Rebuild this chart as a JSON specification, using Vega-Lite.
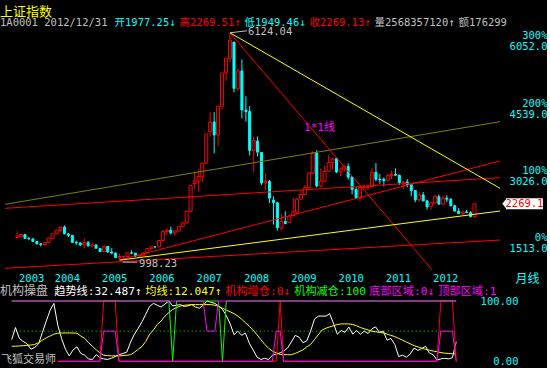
{
"$schema":"https://vega.github.io/schema/vega-lite/v6.json",
"background":"#000000",
"padding":{"left":0,"top":6,"right":0,"bottom":0},
"config":{"view":{"stroke":null},"axis":{"grid":false,"domain":false,"ticks":false}},
"title":{"text":"上证指数","anchor":"start","frame":"bounds","offset":-1,"color":"#ffff00","font":"Noto Sans CJK SC","fontSize":13,"fontWeight":"normal"},
"datasets":{
"k":[
{"d":"2003-04-01","o":1510.4,"h":1649.6,"l":1486.7,"c":1521.4,"tr":36,"ma":25,"inc":null,"dec":100,"bot":null,"top":100},
{"d":"2003-05-01","o":1521.4,"h":1590,"l":1510,"c":1576.3,"tr":56,"ma":25,"inc":null,"dec":100,"bot":null,"top":100},
{"d":"2003-06-01","o":1576,"h":1590,"l":1480,"c":1486.7,"tr":38,"ma":25.5,"inc":null,"dec":100,"bot":null,"top":100},
{"d":"2003-07-01","o":1486,"h":1521,"l":1457,"c":1476.7,"tr":33,"ma":26,"inc":null,"dec":100,"bot":null,"top":100},
{"d":"2003-08-01","o":1476,"h":1490,"l":1412,"c":1422,"tr":29,"ma":26.5,"inc":null,"dec":100,"bot":null,"top":100},
{"d":"2003-09-01","o":1422,"h":1430,"l":1351,"c":1367.2,"tr":20,"ma":27,"inc":null,"dec":100,"bot":null,"top":100},
{"d":"2003-10-01","o":1367,"h":1380,"l":1307,"c":1348.3,"tr":23,"ma":28,"inc":null,"dec":100,"bot":null,"top":100},
{"d":"2003-11-01","o":1348,"h":1404,"l":1316,"c":1397.2,"tr":29,"ma":31,"inc":null,"dec":100,"bot":null,"top":100},
{"d":"2003-12-01","o":1397,"h":1497,"l":1380,"c":1497,"tr":48,"ma":35,"inc":null,"dec":100,"bot":null,"top":100},
{"d":"2004-01-01","o":1492,"h":1596,"l":1492,"c":1590.7,"tr":67,"ma":39,"inc":null,"dec":100,"bot":null,"top":100},
{"d":"2004-02-01","o":1591,"h":1685,"l":1585,"c":1675,"tr":85,"ma":42,"inc":null,"dec":100,"bot":null,"top":100},
{"d":"2004-03-01","o":1675,"h":1759,"l":1630,"c":1741.6,"tr":96,"ma":45,"inc":null,"dec":100,"bot":null,"top":100},
{"d":"2004-04-01","o":1742,"h":1783,"l":1580,"c":1595.6,"tr":60,"ma":46.5,"inc":0,"dec":100,"bot":0,"top":100},
{"d":"2004-05-01","o":1590,"h":1607,"l":1520,"c":1555.9,"tr":38,"ma":47,"inc":0,"dec":100,"bot":0,"top":100},
{"d":"2004-06-01","o":1556,"h":1566,"l":1390,"c":1399.2,"tr":20,"ma":47,"inc":0,"dec":100,"bot":0,"top":100},
{"d":"2004-07-01","o":1399,"h":1440,"l":1340,"c":1386.2,"tr":9,"ma":47,"inc":0,"dec":100,"bot":0,"top":100},
{"d":"2004-08-01","o":1386,"h":1400,"l":1318,"c":1342.1,"tr":19,"ma":47,"inc":0,"dec":100,"bot":0,"top":100},
{"d":"2004-09-01","o":1342,"h":1496,"l":1259,"c":1396.7,"tr":24,"ma":46.5,"inc":0,"dec":100,"bot":0,"top":100},
{"d":"2004-10-01","o":1396,"h":1430,"l":1311,"c":1320.5,"tr":13,"ma":42,"inc":0,"dec":100,"bot":0,"top":100},
{"d":"2004-11-01","o":1320,"h":1402,"l":1301,"c":1340.8,"tr":10,"ma":38,"inc":0,"dec":100,"bot":0,"top":100},
{"d":"2004-12-01","o":1340,"h":1365,"l":1259,"c":1266.5,"tr":4,"ma":31,"inc":0,"dec":100,"bot":0,"top":100},
{"d":"2005-01-01","o":1261,"h":1271,"l":1181,"c":1191.8,"tr":3,"ma":25,"inc":0,"dec":100,"bot":0,"top":100},
{"d":"2005-02-01","o":1191,"h":1328,"l":1183,"c":1306,"tr":11,"ma":19,"inc":0,"dec":100,"bot":0,"top":100},
{"d":"2005-03-01","o":1306,"h":1316,"l":1165,"c":1181.2,"tr":6,"ma":14,"inc":0,"dec":100,"bot":0,"top":100},
{"d":"2005-04-01","o":1181,"h":1270,"l":1131,"c":1159.2,"tr":4,"ma":10,"inc":100,"dec":100,"bot":50,"top":100},
{"d":"2005-05-01","o":1159,"h":1162,"l":1044,"c":1060.7,"tr":3,"ma":9.5,"inc":100,"dec":100,"bot":50,"top":100},
{"d":"2005-06-01","o":1060,"h":1146,"l":998.23,"c":1080.9,"tr":5,"ma":9,"inc":100,"dec":100,"bot":50,"top":100},
{"d":"2005-07-01","o":1080,"h":1097,"l":1004,"c":1083,"tr":8,"ma":9,"inc":100,"dec":100,"bot":50,"top":100},
{"d":"2005-08-01","o":1083,"h":1168,"l":1072,"c":1162.8,"tr":11,"ma":9,"inc":0,"dec":100,"bot":0,"top":100},
{"d":"2005-09-01","o":1163,"h":1223,"l":1132,"c":1155.6,"tr":13,"ma":9.5,"inc":0,"dec":100,"bot":0,"top":100},
{"d":"2005-10-01","o":1155,"h":1156,"l":1067,"c":1092.8,"tr":15,"ma":10,"inc":0,"dec":100,"bot":0,"top":100},
{"d":"2005-11-01","o":1092,"h":1112,"l":1074,"c":1099.3,"tr":32,"ma":11,"inc":0,"dec":100,"bot":0,"top":100},
{"d":"2005-12-01","o":1099,"h":1180,"l":1095,"c":1161.1,"tr":45,"ma":15,"inc":0,"dec":100,"bot":0,"top":100},
{"d":"2006-01-01","o":1163,"h":1268,"l":1161,"c":1258,"tr":55,"ma":20,"inc":0,"dec":100,"bot":0,"top":100},
{"d":"2006-02-01","o":1258,"h":1304,"l":1257,"c":1299,"tr":66,"ma":25,"inc":0,"dec":100,"bot":0,"top":100},
{"d":"2006-03-01","o":1299,"h":1303,"l":1261,"c":1298.3,"tr":78,"ma":33,"inc":0,"dec":100,"bot":0,"top":100},
{"d":"2006-04-01","o":1298,"h":1445,"l":1290,"c":1440.2,"tr":91,"ma":45,"inc":0,"dec":100,"bot":0,"top":100},
{"d":"2006-05-01","o":1440,"h":1678,"l":1419,"c":1641.3,"tr":96,"ma":52,"inc":0,"dec":100,"bot":0,"top":100},
{"d":"2006-06-01","o":1641,"h":1718,"l":1563,"c":1672.2,"tr":93,"ma":61,"inc":0,"dec":100,"bot":0,"top":100},
{"d":"2006-07-01","o":1672,"h":1757,"l":1576,"c":1612.7,"tr":90,"ma":67,"inc":0,"dec":100,"bot":0,"top":100},
{"d":"2006-08-01","o":1612,"h":1658,"l":1543,"c":1658.6,"tr":95,"ma":75,"inc":0,"dec":100,"bot":0,"top":100},
{"d":"2006-09-01","o":1658,"h":1763,"l":1644,"c":1752.4,"tr":100,"ma":81,"inc":0,"dec":100,"bot":0,"top":100},
{"d":"2006-10-01","o":1752,"h":1839,"l":1751,"c":1838,"tr":92,"ma":86,"inc":0,"dec":0,"bot":0,"top":100},
{"d":"2006-11-01","o":1838,"h":2100,"l":1823,"c":2099.3,"tr":93,"ma":89,"inc":0,"dec":100,"bot":0,"top":100},
{"d":"2006-12-01","o":2099,"h":2698,"l":2079,"c":2675.5,"tr":94,"ma":91.5,"inc":0,"dec":100,"bot":0,"top":100},
{"d":"2007-01-01","o":2728,"h":2994,"l":2605,"c":2786.3,"tr":91,"ma":93,"inc":0,"dec":100,"bot":0,"top":100},
{"d":"2007-02-01","o":2786,"h":3049,"l":2541,"c":2881.1,"tr":92,"ma":93.5,"inc":0,"dec":100,"bot":0,"top":100},
{"d":"2007-03-01","o":2881,"h":3184,"l":2762,"c":3184,"tr":94,"ma":94,"inc":0,"dec":100,"bot":0,"top":100},
{"d":"2007-04-01","o":3184,"h":3841,"l":3180,"c":3841.3,"tr":90,"ma":94,"inc":0,"dec":100,"bot":0,"top":100},
{"d":"2007-05-01","o":3900,"h":4335,"l":3780,"c":4109.7,"tr":88,"ma":94,"inc":0,"dec":100,"bot":0,"top":100},
{"d":"2007-06-01","o":4109,"h":4335,"l":3404,"c":3820.7,"tr":93,"ma":94,"inc":0,"dec":100,"bot":0,"top":100},
{"d":"2007-07-01","o":3820,"h":4472,"l":3563,"c":4471,"tr":100,"ma":94,"inc":0,"dec":100,"bot":0,"top":50},
{"d":"2007-08-01","o":4471,"h":5219,"l":4395,"c":5218.8,"tr":98,"ma":94,"inc":0,"dec":100,"bot":0,"top":50},
{"d":"2007-09-01","o":5218,"h":5552,"l":5039,"c":5552.3,"tr":96,"ma":93,"inc":0,"dec":100,"bot":0,"top":50},
{"d":"2007-10-01","o":5552,"h":6124.04,"l":5462,"c":5954.8,"tr":92,"ma":91,"inc":0,"dec":100,"bot":0,"top":100},
{"d":"2007-11-01","o":5914,"h":5914,"l":4778,"c":4871.8,"tr":86,"ma":88,"inc":0,"dec":0,"bot":0,"top":100},
{"d":"2007-12-01","o":4868,"h":5303,"l":4812,"c":5261.6,"tr":76,"ma":85,"inc":0,"dec":100,"bot":0,"top":100},
{"d":"2008-01-01","o":5265,"h":5522,"l":4195,"c":4383.4,"tr":62,"ma":82,"inc":0,"dec":100,"bot":0,"top":100},
{"d":"2008-02-01","o":4381,"h":4695,"l":4123,"c":4348.5,"tr":44,"ma":79,"inc":0,"dec":100,"bot":0,"top":100},
{"d":"2008-03-01","o":4348,"h":4473,"l":3357,"c":3472.7,"tr":50,"ma":75,"inc":0,"dec":100,"bot":0,"top":100},
{"d":"2008-04-01","o":3472,"h":3786,"l":2990,"c":3693.1,"tr":43,"ma":70,"inc":0,"dec":100,"bot":0,"top":100},
{"d":"2008-05-01","o":3681,"h":3786,"l":3333,"c":3433.4,"tr":47,"ma":64,"inc":0,"dec":100,"bot":0,"top":100},
{"d":"2008-06-01","o":3425,"h":3434,"l":2693,"c":2736.1,"tr":30,"ma":58,"inc":0,"dec":100,"bot":0,"top":100},
{"d":"2008-07-01","o":2737,"h":2952,"l":2566,"c":2775.7,"tr":19,"ma":52,"inc":0,"dec":100,"bot":0,"top":100},
{"d":"2008-08-01","o":2775,"h":2806,"l":2284,"c":2397.4,"tr":7,"ma":44,"inc":0,"dec":100,"bot":0,"top":100},
{"d":"2008-09-01","o":2350,"h":2434,"l":1802,"c":2293.8,"tr":3,"ma":36,"inc":0,"dec":100,"bot":0,"top":100},
{"d":"2008-10-01","o":2293,"h":2293,"l":1664.9,"c":1728.8,"tr":5,"ma":28,"inc":0,"dec":100,"bot":0,"top":100},
{"d":"2008-11-01","o":1721,"h":2050,"l":1678,"c":1871.2,"tr":3,"ma":22,"inc":0,"dec":100,"bot":0,"top":100},
{"d":"2008-12-01","o":1870,"h":2100,"l":1814,"c":1820.8,"tr":10,"ma":17,"inc":0,"dec":100,"bot":0,"top":100},
{"d":"2009-01-01","o":1849,"h":2015,"l":1844,"c":1990.7,"tr":12,"ma":14,"inc":0,"dec":100,"bot":50,"top":100},
{"d":"2009-02-01","o":2000,"h":2402,"l":1992,"c":2082.9,"tr":14,"ma":11.5,"inc":100,"dec":100,"bot":50,"top":100},
{"d":"2009-03-01","o":2082,"h":2400,"l":2037,"c":2373.2,"tr":17,"ma":11,"inc":0,"dec":100,"bot":0,"top":100},
{"d":"2009-04-01","o":2373,"h":2579,"l":2369,"c":2477.6,"tr":22,"ma":11,"inc":0,"dec":100,"bot":0,"top":100},
{"d":"2009-05-01","o":2477,"h":2688,"l":2475,"c":2632.9,"tr":32,"ma":11,"inc":0,"dec":100,"bot":0,"top":100},
{"d":"2009-06-01","o":2636,"h":2986,"l":2628,"c":2959.4,"tr":43,"ma":13,"inc":0,"dec":100,"bot":0,"top":100},
{"d":"2009-07-01","o":2959,"h":3454,"l":2956,"c":3412.1,"tr":40,"ma":16,"inc":0,"dec":100,"bot":0,"top":100},
{"d":"2009-08-01","o":3412,"h":3478,"l":2639,"c":2667.7,"tr":31,"ma":19,"inc":0,"dec":100,"bot":0,"top":100},
{"d":"2009-09-01","o":2667,"h":3068,"l":2639,"c":2779.4,"tr":34,"ma":24,"inc":0,"dec":100,"bot":0,"top":100},
{"d":"2009-10-01","o":2779,"h":3123,"l":2750,"c":2995.9,"tr":50,"ma":28,"inc":0,"dec":100,"bot":0,"top":100},
{"d":"2009-11-01","o":2995,"h":3361,"l":2992,"c":3195.3,"tr":70,"ma":36,"inc":0,"dec":100,"bot":0,"top":100},
{"d":"2009-12-01","o":3195,"h":3306,"l":3039,"c":3277.1,"tr":75,"ma":44,"inc":0,"dec":100,"bot":0,"top":100},
{"d":"2010-01-01","o":3289,"h":3306,"l":2963,"c":2989.3,"tr":75,"ma":52,"inc":0,"dec":100,"bot":0,"top":100},
{"d":"2010-02-01","o":2989,"h":3087,"l":2890,"c":3051.9,"tr":75,"ma":55,"inc":0,"dec":100,"bot":0,"top":100},
{"d":"2010-03-01","o":3051,"h":3147,"l":2993,"c":3109.1,"tr":79,"ma":57,"inc":0,"dec":100,"bot":0,"top":100},
{"d":"2010-04-01","o":3109,"h":3181,"l":2816,"c":2870.6,"tr":63,"ma":59,"inc":0,"dec":100,"bot":0,"top":100},
{"d":"2010-05-01","o":2870,"h":2894,"l":2481,"c":2592.2,"tr":45,"ma":61,"inc":0,"dec":100,"bot":0,"top":100},
{"d":"2010-06-01","o":2592,"h":2641,"l":2382,"c":2398.4,"tr":51,"ma":62,"inc":0,"dec":100,"bot":0,"top":100},
{"d":"2010-07-01","o":2398,"h":2673,"l":2319,"c":2637.5,"tr":48,"ma":62,"inc":0,"dec":100,"bot":0,"top":100},
{"d":"2010-08-01","o":2637,"h":2701,"l":2574,"c":2638.8,"tr":57,"ma":62,"inc":0,"dec":100,"bot":0,"top":100},
{"d":"2010-09-01","o":2638,"h":2688,"l":2573,"c":2655.7,"tr":45,"ma":61,"inc":0,"dec":100,"bot":0,"top":100},
{"d":"2010-10-01","o":2655,"h":3074,"l":2650,"c":2978.8,"tr":51,"ma":59,"inc":0,"dec":100,"bot":0,"top":100},
{"d":"2010-11-01","o":2978,"h":3186,"l":2774,"c":2820.2,"tr":45,"ma":56,"inc":0,"dec":100,"bot":0,"top":100},
{"d":"2010-12-01","o":2820,"h":2938,"l":2721,"c":2808.1,"tr":50,"ma":54,"inc":0,"dec":100,"bot":0,"top":100},
{"d":"2011-01-01","o":2825,"h":2861,"l":2661,"c":2790.7,"tr":46,"ma":52,"inc":0,"dec":100,"bot":0,"top":100},
{"d":"2011-02-01","o":2798,"h":2944,"l":2780,"c":2905.1,"tr":54,"ma":50,"inc":0,"dec":100,"bot":0,"top":100},
{"d":"2011-03-01","o":2905,"h":3017,"l":2828,"c":2928.1,"tr":57,"ma":49,"inc":0,"dec":100,"bot":0,"top":100},
{"d":"2011-04-01","o":2928,"h":3067,"l":2907,"c":2911.5,"tr":48,"ma":48,"inc":0,"dec":100,"bot":0,"top":100},
{"d":"2011-05-01","o":2911,"h":2930,"l":2691,"c":2743.5,"tr":50,"ma":47,"inc":0,"dec":100,"bot":0,"top":100},
{"d":"2011-06-01","o":2743,"h":2773,"l":2610,"c":2762.1,"tr":35,"ma":45,"inc":0,"dec":100,"bot":0,"top":100},
{"d":"2011-07-01","o":2762,"h":2826,"l":2639,"c":2701.7,"tr":38,"ma":43,"inc":0,"dec":100,"bot":0,"top":100},
{"d":"2011-08-01","o":2701,"h":2713,"l":2437,"c":2567.3,"tr":28,"ma":41,"inc":0,"dec":100,"bot":0,"top":100},
{"d":"2011-09-01","o":2567,"h":2570,"l":2307,"c":2359.2,"tr":8,"ma":38,"inc":0,"dec":100,"bot":0,"top":100},
{"d":"2011-10-01","o":2359,"h":2536,"l":2319,"c":2468.3,"tr":10,"ma":35,"inc":0,"dec":100,"bot":0,"top":100},
{"d":"2011-11-01","o":2468,"h":2536,"l":2372,"c":2333.4,"tr":7,"ma":32,"inc":0,"dec":100,"bot":0,"top":100},
{"d":"2011-12-01","o":2333,"h":2356,"l":2134,"c":2199.4,"tr":12,"ma":29,"inc":0,"dec":100,"bot":0,"top":100},
{"d":"2012-01-01","o":2212,"h":2302,"l":2132,"c":2292.6,"tr":22,"ma":26,"inc":0,"dec":100,"bot":0,"top":100},
{"d":"2012-02-01","o":2292,"h":2478,"l":2256,"c":2428.5,"tr":18,"ma":24,"inc":0,"dec":100,"bot":0,"top":100},
{"d":"2012-03-01","o":2428,"h":2478,"l":2242,"c":2262.8,"tr":21,"ma":22,"inc":0,"dec":100,"bot":0,"top":100},
{"d":"2012-04-01","o":2262,"h":2453,"l":2240,"c":2396.3,"tr":25,"ma":20,"inc":0,"dec":100,"bot":0,"top":100},
{"d":"2012-05-01","o":2396,"h":2461,"l":2308,"c":2372.2,"tr":14,"ma":18.5,"inc":0,"dec":100,"bot":0,"top":100},
{"d":"2012-06-01","o":2372,"h":2393,"l":2211,"c":2225.4,"tr":11,"ma":17,"inc":0,"dec":100,"bot":0,"top":100},
{"d":"2012-07-01","o":2225,"h":2245,"l":2100,"c":2103.6,"tr":2,"ma":16,"inc":0,"dec":100,"bot":0,"top":100},
{"d":"2012-08-01","o":2103,"h":2174,"l":2041,"c":2047.5,"tr":4,"ma":14.5,"inc":100,"dec":100,"bot":50,"top":100},
{"d":"2012-09-01","o":2047,"h":2114,"l":1999,"c":2086.2,"tr":5,"ma":13.5,"inc":100,"dec":100,"bot":50,"top":100},
{"d":"2012-10-01","o":2086,"h":2133,"l":2063,"c":2068.9,"tr":4,"ma":13,"inc":100,"dec":100,"bot":50,"top":100},
{"d":"2012-11-01","o":2068,"h":2104,"l":1959,"c":1980.1,"tr":6,"ma":12.5,"inc":100,"dec":100,"bot":50,"top":100},
{"d":"2012-12-01","o":1977.25,"h":2269.51,"l":1949.46,"c":2269.13,"tr":32.487,"ma":12.047,"inc":0,"dec":100,"bot":0,"top":100}
],
"tl":[
{"id":"olive","d":"2002-12-29","p":2257},{"id":"olive","d":"2013-06-16","p":4120},
{"id":"rA","d":"2002-12-29","p":2167},{"id":"rA","d":"2013-06-16","p":2857},
{"id":"rB","d":"2002-12-29","p":814},{"id":"rB","d":"2013-06-16","p":1452},
{"id":"rC","d":"2005-06-01","p":1001},{"id":"rC","d":"2013-06-16","p":3233},
{"id":"r11","d":"2007-10-01","p":6124.04},{"id":"r11","d":"2012-01-10","p":776},
{"id":"yA","d":"2005-06-01","p":998.23},{"id":"yA","d":"2013-06-16","p":2106},
{"id":"yB","d":"2007-10-01","p":6124.04},{"id":"yB","d":"2013-06-16","p":2618}
]
},
"spacing":2,
"resolve":{"scale":{"x":"independent","y":"independent","color":"independent"},"legend":{"color":"independent"}},
"vconcat":[
{
"width":505,"height":240,
"encoding":{"x":{"field":"d","type":"temporal","scale":{"type":"utc","domain":[{"year":2002,"month":12,"date":29,"utc":true},{"year":2013,"month":6,"date":16,"utc":true}],"nice":false},
 "axis":{"values":[{"year":2003,"month":4,"date":1,"utc":true},{"year":2004,"month":1,"date":1,"utc":true},{"year":2005,"month":1,"date":1,"utc":true},{"year":2006,"month":1,"date":1,"utc":true},{"year":2007,"month":1,"date":1,"utc":true},{"year":2008,"month":1,"date":1,"utc":true},{"year":2009,"month":1,"date":1,"utc":true},{"year":2010,"month":1,"date":1,"utc":true},{"year":2011,"month":1,"date":1,"utc":true},{"year":2012,"month":1,"date":1,"utc":true}],
 "labelExpr":"utcFormat(datum.value, '%Y')","labelAlign":"left","labelBaseline":"top","labelPadding":3,"labelOffset":1.5,"labelColor":"#00ffff","labelFont":"DejaVu Sans Mono","labelFontSize":10.5,"labelOverlap":false,"labelFlush":false,
 "title":"月线","titleColor":"#00ffff","titleFont":"Noto Sans CJK SC","titleFontSize":12,"titleFontWeight":"normal","titleAnchor":"end","titleAlign":"left","titleBaseline":"top","titleX":515,"titleY":3}}},
"layer":[
{"data":{"name":"k"},"mark":{"type":"rule","strokeWidth":1},
 "encoding":{"y":{"field":"l","type":"quantitative","scale":{"domain":[776,6187],"nice":false,"zero":false},
   "axis":{"orient":"right","values":[1513,3026,4539,6052],"labelExpr":"[round(datum.value/1513*100-100) + '%', format(datum.value, '.1f')]","labelAlign":"right","labelBaseline":"top","labelPadding":42,"labelOffset":-5,"labelLineHeight":11,"labelColor":"#00ffff","labelFont":"DejaVu Sans Mono","labelFontSize":10.5,"title":null,"labelOverlap":false,"labelFlush":false}},
  "y2":{"field":"h"},
  "color":{"condition":{"test":"datum.c >= datum.o","value":"#ff0000"},"value":"#00ffff"}}},
{"data":{"name":"k"},"transform":[{"filter":"datum.c < datum.o"}],"mark":{"type":"bar","width":2,"fill":"#00ffff","stroke":"#00ffff","strokeWidth":1},
 "encoding":{"y":{"field":"o","type":"quantitative","scale":{"domain":[776,6187],"nice":false,"zero":false}},"y2":{"field":"c"}}},
{"data":{"name":"k"},"transform":[{"filter":"datum.c >= datum.o"}],"mark":{"type":"bar","width":3,"fill":"#000000","stroke":"#ff0000","strokeWidth":1},
 "encoding":{"y":{"field":"o","type":"quantitative","scale":{"domain":[776,6187],"nice":false,"zero":false}},"y2":{"field":"c"}}},
{"data":{"name":"tl"},"transform":[{"filter":"datum.id == 'olive'"}],"mark":{"type":"line","color":"#808000","strokeWidth":1},
 "encoding":{"y":{"field":"p","type":"quantitative","scale":{"domain":[776,6187],"nice":false,"zero":false}},"detail":{"field":"id"}}},
{"data":{"name":"tl"},"transform":[{"filter":"substring(datum.id,0,1) == 'r'"}],"mark":{"type":"line","color":"#ff0000","strokeWidth":1},
 "encoding":{"y":{"field":"p","type":"quantitative","scale":{"domain":[776,6187],"nice":false,"zero":false}},"detail":{"field":"id"}}},
{"data":{"name":"tl"},"transform":[{"filter":"substring(datum.id,0,1) == 'y'"}],"mark":{"type":"line","color":"#ffff00","strokeWidth":1},
 "encoding":{"y":{"field":"p","type":"quantitative","scale":{"domain":[776,6187],"nice":false,"zero":false}},"detail":{"field":"id"}}},
{"data":{"values":[{"d":"2007-10-01","p":6124.04,"t":"6124.04"}]},"mark":{"type":"rule","color":"#c0c0c0","strokeWidth":1,"x2Offset":17,"y2Offset":-2},
 "encoding":{"x2":{"field":"d"},"y":{"field":"p","type":"quantitative","scale":{"domain":[776,6187],"nice":false,"zero":false}},"y2":{"field":"p"}}},
{"data":{"values":[{"d":"2007-10-01","p":6124.04,"t":"6124.04"}]},"mark":{"type":"text","align":"left","baseline":"middle","dx":18,"dy":-1,"color":"#c0c0c0","font":"DejaVu Sans Mono","fontSize":10.5},
 "encoding":{"y":{"field":"p","type":"quantitative","scale":{"domain":[776,6187],"nice":false,"zero":false}},"text":{"field":"t"}}},
{"data":{"values":[{"d":"2005-06-01","p":998.23,"t":"998.23"}]},"mark":{"type":"rule","color":"#c0c0c0","strokeWidth":1,"xOffset":3,"x2Offset":18,"yOffset":2,"y2Offset":2},
 "encoding":{"x2":{"field":"d"},"y":{"field":"p","type":"quantitative","scale":{"domain":[776,6187],"nice":false,"zero":false}},"y2":{"field":"p"}}},
{"data":{"values":[{"d":"2005-06-01","p":998.23,"t":"998.23"}]},"mark":{"type":"text","align":"left","baseline":"middle","dx":19.5,"dy":3.5,"color":"#c0c0c0","font":"DejaVu Sans Mono","fontSize":10.5},
 "encoding":{"y":{"field":"p","type":"quantitative","scale":{"domain":[776,6187],"nice":false,"zero":false}},"text":{"field":"t"}}},
{"data":{"values":[{"d":"2009-08-22","p":3977,"t":"1*1线"}]},"mark":{"type":"text","align":"center","baseline":"middle","color":"#ff00ff","font":"DejaVu Sans Mono, Noto Sans CJK SC","fontSize":11},
 "encoding":{"y":{"field":"p","type":"quantitative","scale":{"domain":[776,6187],"nice":false,"zero":false}},"text":{"field":"t"}}},
{"data":{"values":[{"d":"2012-12-01","c":2269.13,"t":"2269.1"}]},"mark":{"type":"point","shape":"M 0.4 -1 L -0.4 0 L 0.4 1 Z","filled":true,"color":"#ffffff","opacity":1,"size":121,"xOffset":30},
 "encoding":{"y":{"field":"c","type":"quantitative","scale":{"domain":[776,6187],"nice":false,"zero":false}}}},
{"data":{"values":[{"d":"2012-12-01","c":2269.13,"t":"2269.1"}]},"mark":{"type":"rect","color":"#ffffff","xOffset":31.5,"x2Offset":68.4,"yOffset":-5.5,"y2Offset":5.5},
 "encoding":{"x2":{"field":"d"},"y":{"field":"c","type":"quantitative","scale":{"domain":[776,6187],"nice":false,"zero":false}},"y2":{"field":"c"}}},
{"data":{"values":[{"d":"2012-12-01","c":2269.13,"t":"2269.1"}]},"mark":{"type":"text","align":"center","baseline":"middle","dx":50,"color":"#ff0000","font":"DejaVu Sans Mono","fontSize":10.5},
 "encoding":{"y":{"field":"c","type":"quantitative","scale":{"domain":[776,6187],"nice":false,"zero":false}},"text":{"field":"t"}}},
{"data":{"values":[{"q":"开1977.25↓"},{"q":"高2269.51↑"},{"q":"低1949.46↓"},{"q":"收2269.13↑"},{"q":"量2568357120↑"},{"q":"额176299"}]},
 "mark":{"type":"point","opacity":0},
 "encoding":{"y":{"field":"c","type":"quantitative","scale":{"domain":[776,6187],"nice":false,"zero":false}},
  "color":{"field":"q","type":"nominal","scale":{"domain":["开1977.25↓","高2269.51↑","低1949.46↓","收2269.13↑","量2568357120↑","额176299"],"range":["#00ffff","#ff0000","#00ffff","#ff0000","#c0c0c0","#c0c0c0"]},
   "legend":{"orient":"top","direction":"horizontal","title":"1A0001 2012/12/31","titleOrient":"left","titleColor":"#c0c0c0","titleFont":"DejaVu Sans Mono","titleFontSize":10.5,"titleFontWeight":"normal","titlePadding":10,
    "labelFont":"DejaVu Sans Mono, Noto Sans CJK SC","labelFontSize":10.5,"labelLimit":0,"symbolSize":0,"symbolOpacity":0,"symbolStrokeWidth":0,"labelOffset":-14,"columnPadding":3,"gridAlign":"none","offset":1,"padding":0,
    "labelColor":{"expr":"datum.value == '开1977.25↓' || datum.value == '低1949.46↓' ? '#00ffff' : datum.value == '高2269.51↑' || datum.value == '收2269.13↑' ? '#ff0000' : '#c0c0c0'"}}}}}
]
},
{
"width":481,"height":72,
"data":{"name":"k"},
"encoding":{"x":{"field":"d","type":"temporal","scale":{"type":"utc","domain":[{"year":2002,"month":12,"date":29,"utc":true},{"year":2013,"month":6,"date":16,"utc":true}],"nice":false},"axis":null}},
"layer":[
{"mark":{"type":"line","color":"#00ff00","strokeWidth":1,"strokeDash":[1,3]},
 "encoding":{"y":{"datum":50,"type":"quantitative","scale":{"domain":[-11.1,108.3],"nice":false,"zero":false},
   "axis":{"orient":"right","values":[0,100],"format":".2f","labelAlign":"right","labelPadding":37,"labelColor":"#00ffff","labelFont":"DejaVu Sans Mono","labelFontSize":10.5,"title":null,"labelFlush":false,"labelOverlap":false}}}},
{"mark":{"type":"line","strokeWidth":1},
 "encoding":{"y":{"field":"tr","type":"quantitative"},
  "color":{"datum":"趋势线","scale":{"domain":["趋势线","均线","机构增仓","机构减仓","底部区域","顶部区域"],"range":["#ffffff","#ffff00","#ff0000","#00ff00","#ff00ff","#ff00ff"]},
   "legend":{"orient":"top","direction":"horizontal","title":"机构操盘","titleOrient":"left","titleColor":"#c0c0c0","titleFont":"Noto Sans CJK SC","titleFontSize":12,"titleFontWeight":"normal","titlePadding":8,
    "labelFont":"DejaVu Sans Mono, Noto Sans CJK SC","labelFontSize":11.2,"labelLimit":0,"symbolSize":0,"symbolOpacity":0,"symbolStrokeWidth":0,"labelOffset":-14,"columnPadding":3,"gridAlign":"none","offset":-1,"padding":0,
    "labelExpr":"datum.label == '趋势线' ? '趋势线:32.487↑' : datum.label == '均线' ? '均线:12.047↑' : datum.label == '机构增仓' ? '机构增仓:0↓' : datum.label == '机构减仓' ? '机构减仓:100' : datum.label == '底部区域' ? '底部区域:0↓' : '顶部区域:1'",
    "labelColor":{"expr":"datum.value == '趋势线' ? '#ffffff' : datum.value == '均线' ? '#ffff00' : datum.value == '机构增仓' ? '#ff0000' : datum.value == '机构减仓' ? '#00ff00' : '#ff00ff'"}}}}},
{"mark":{"type":"line","strokeWidth":1},
 "encoding":{"y":{"field":"ma","type":"quantitative"},"color":{"datum":"均线","scale":{"domain":["趋势线","均线","机构增仓","机构减仓","底部区域","顶部区域"],"range":["#ffffff","#ffff00","#ff0000","#00ff00","#ff00ff","#ff00ff"]},"legend":null}}},
{"mark":{"type":"line","strokeWidth":1},
 "encoding":{"y":{"field":"inc","type":"quantitative"},"color":{"datum":"机构增仓","scale":{"domain":["趋势线","均线","机构增仓","机构减仓","底部区域","顶部区域"],"range":["#ffffff","#ffff00","#ff0000","#00ff00","#ff00ff","#ff00ff"]},"legend":null}}},
{"mark":{"type":"line","strokeWidth":1},
 "encoding":{"y":{"field":"dec","type":"quantitative"},"color":{"datum":"机构减仓","scale":{"domain":["趋势线","均线","机构增仓","机构减仓","底部区域","顶部区域"],"range":["#ffffff","#ffff00","#ff0000","#00ff00","#ff00ff","#ff00ff"]},"legend":null}}},
{"mark":{"type":"line","strokeWidth":1},
 "encoding":{"y":{"field":"bot","type":"quantitative"},"color":{"datum":"底部区域","scale":{"domain":["趋势线","均线","机构增仓","机构减仓","底部区域","顶部区域"],"range":["#ffffff","#ffff00","#ff0000","#00ff00","#ff00ff","#ff00ff"]},"legend":null}}},
{"mark":{"type":"line","strokeWidth":1},
 "encoding":{"y":{"field":"top","type":"quantitative"},"color":{"datum":"顶部区域","scale":{"domain":["趋势线","均线","机构增仓","机构减仓","底部区域","顶部区域"],"range":["#ffffff","#ffff00","#ff0000","#00ff00","#ff00ff","#ff00ff"]},"legend":null}}},
{"data":{"values":[{"d":"2002-12-29","v":0,"t":"飞狐交易师"}]},"mark":{"type":"text","align":"left","baseline":"middle","dx":1,"dy":-1,"color":"#c0c0c0","font":"Noto Sans CJK SC","fontSize":11},
 "encoding":{"y":{"field":"v","type":"quantitative"},"text":{"field":"t"}}}
]
}
]
}
